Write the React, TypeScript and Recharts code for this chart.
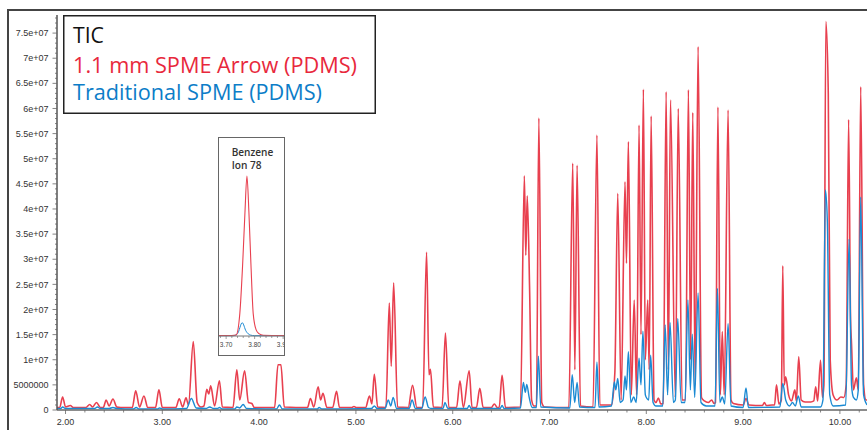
import React from 'react';
import { LineChart, Line, XAxis, YAxis } from 'recharts';

if (typeof document !== 'undefined') {
  document.body.style.margin = '0';
}

// Main chromatogram: [retention time (min), intensity (millions)]
const arrowTrace: [number, number][] = [
  [1.912, 0.5], [1.94, 0.5], [1.97, 2.6], [2.0, 0.6], [2.05, 0.9], [2.08, 0.5],
  [2.21, 0.5], [2.25, 1.1], [2.28, 0.6], [2.32, 1.5], [2.36, 0.5],
  [2.39, 0.5], [2.42, 2.0], [2.45, 0.8], [2.49, 2.2], [2.53, 0.6], [2.57, 0.5],
  [2.69, 0.5], [2.725, 3.8], [2.765, 0.6], [2.81, 2.8], [2.85, 0.5],
  [2.93, 0.5], [2.965, 4.0], [3.0, 0.5],
  [3.14, 0.5], [3.175, 2.25], [3.21, 0.6], [3.245, 2.45], [3.27, 1.0], [3.32, 13.6], [3.36, 1.5], [3.4, 0.6],
  [3.43, 0.8], [3.46, 4.1], [3.48, 3.2], [3.5, 4.8], [3.54, 0.8], [3.59, 5.8], [3.62, 0.6],
  [3.73, 0.5], [3.77, 8.0], [3.8, 2.0], [3.85, 7.8], [3.89, 1.5], [3.925, 1.3], [3.95, 0.5],
  [4.16, 0.5], [4.195, 9.0], [4.225, 9.0], [4.26, 0.6],
  [4.5, 0.5], [4.53, 2.3], [4.565, 0.6], [4.61, 4.6], [4.635, 2.0], [4.66, 3.3], [4.7, 0.5],
  [4.76, 0.5], [4.8, 3.7], [4.83, 0.5],
  [4.96, 0.5], [4.98, 0.7], [5.0, 0.5],
  [5.1, 0.5], [5.14, 2.8], [5.165, 1.2], [5.19, 7.1], [5.225, 0.6],
  [5.31, 0.5], [5.345, 21.3], [5.365, 8.7], [5.39, 25.3], [5.43, 0.6],
  [5.54, 0.5], [5.585, 4.9], [5.63, 0.5],
  [5.69, 0.5], [5.73, 31.4], [5.755, 7.0], [5.77, 8.1], [5.8, 0.6],
  [5.89, 0.5], [5.925, 15.3], [5.96, 0.5],
  [6.04, 0.5], [6.075, 5.8], [6.11, 0.5], [6.17, 7.8], [6.2, 0.5],
  [6.245, 0.5], [6.28, 4.3], [6.315, 0.5],
  [6.4, 0.5], [6.43, 1.2], [6.46, 0.5],
  [6.48, 0.5], [6.51, 6.9], [6.545, 0.5],
  [6.7, 0.6], [6.74, 46.6], [6.755, 30.8], [6.77, 42.6], [6.795, 23.5], [6.815, 2.0], [6.84, 0.8],
  [6.865, 0.8], [6.89, 58.1], [6.92, 1.5], [6.95, 0.6],
  [7.2, 0.5], [7.24, 49.1], [7.262, 8.0], [7.285, 48.7], [7.32, 0.8],
  [7.45, 0.6], [7.49, 54.7], [7.52, 1.0],
  [7.64, 1.0], [7.675, 7.4], [7.705, 43.1], [7.74, 2.0], [7.78, 45.4], [7.795, 29.2], [7.815, 53.4],
  [7.845, 3.0], [7.875, 21.9], [7.9, 3.0], [7.925, 56.7], [7.945, 15.0], [7.97, 63.8], [7.99, 10.0],
  [8.015, 21.9], [8.03, 8.0], [8.05, 58.5], [8.08, 2.0], [8.1, 1.5], [8.125, 2.4], [8.15, 1.2],
  [8.175, 1.3], [8.205, 63.3], [8.228, 8.0], [8.25, 61.7], [8.3, 2.5], [8.33, 60.0], [8.37, 2.0],
  [8.405, 2.0], [8.435, 63.7], [8.458, 10.0], [8.48, 59.2], [8.505, 5.0], [8.535, 72.3], [8.57, 2.5],
  [8.6, 1.8], [8.64, 1.5], [8.675, 2.0], [8.7, 1.3],
  [8.715, 1.5], [8.74, 60.3], [8.765, 3.0], [8.785, 15.6], [8.805, 3.0], [8.845, 59.7], [8.875, 2.0], [8.9, 1.3],
  [9.0, 1.0], [9.03, 2.3], [9.06, 1.0], [9.2, 0.9], [9.22, 1.5], [9.24, 0.9], [9.3, 1.0],
  [9.325, 1.0], [9.345, 5.0], [9.37, 1.2], [9.395, 2.0], [9.41, 28.7], [9.425, 5.0], [9.44, 6.6],
  [9.47, 3.0], [9.5, 1.8], [9.535, 4.0], [9.55, 1.8], [9.575, 10.6], [9.6, 2.0], [9.64, 1.6], [9.7, 1.6],
  [9.73, 1.8], [9.75, 4.6], [9.77, 1.8], [9.8, 9.9], [9.82, 2.5], [9.835, 5.0], [9.855, 77.3], [9.88, 63.0],
  [9.9, 10.0], [9.93, 3.0], [9.97, 2.0], [10.01, 2.6], [10.04, 2.5], [10.065, 5.0], [10.09, 57.8],
  [10.11, 18.0], [10.12, 13.3], [10.14, 4.0], [10.17, 6.4], [10.19, 4.0], [10.215, 64.3], [10.245, 5.0],
  [10.27, 2.0], [10.28, 2.0],
];

const traditionalTrace: [number, number][] = [
  [1.912, 0.3], [1.95, 0.3], [1.97, 0.6], [2.0, 0.3], [2.3, 0.3], [2.33, 0.6], [2.36, 0.3],
  [2.45, 0.3], [2.49, 0.5], [2.53, 0.3], [2.7, 0.2], [2.73, 0.5], [2.76, 0.2], [2.95, 0.2], [2.97, 0.4], [3.0, 0.2],
  [3.25, 0.3], [3.3, 2.3], [3.35, 0.4], [3.45, 0.3], [3.49, 0.6], [3.53, 0.3], [3.57, 0.3], [3.59, 0.5], [3.62, 0.2],
  [3.75, 0.2], [3.77, 0.6], [3.8, 0.4], [3.835, 1.1], [3.87, 0.3],
  [4.18, 0.2], [4.21, 1.0], [4.24, 0.2],
  [4.6, 0.2], [4.62, 0.5], [4.65, 0.2],
  [5.16, 0.3], [5.19, 0.8], [5.22, 0.3],
  [5.3, 0.3], [5.335, 2.0], [5.36, 0.8], [5.385, 2.5], [5.42, 0.3],
  [5.55, 0.3], [5.58, 2.0], [5.615, 0.3],
  [5.68, 0.3], [5.715, 2.6], [5.75, 0.5], [5.78, 0.3],
  [5.9, 0.3], [5.92, 1.5], [5.95, 0.3],
  [6.15, 0.3], [6.17, 0.9], [6.19, 0.3],
  [6.49, 0.3], [6.51, 0.9], [6.53, 0.3],
  [6.7, 0.4], [6.73, 5.5], [6.75, 3.5], [6.765, 5.1], [6.79, 2.5], [6.82, 0.5],
  [6.865, 0.5], [6.885, 10.7], [6.91, 0.6],
  [7.21, 0.4], [7.235, 7.0], [7.26, 1.5], [7.285, 5.5], [7.31, 0.6],
  [7.47, 0.5], [7.49, 9.5], [7.51, 0.6],
  [7.64, 0.8], [7.67, 5.6], [7.685, 4.0], [7.705, 6.3], [7.73, 1.5], [7.76, 2.0], [7.78, 6.8], [7.795, 4.0],
  [7.815, 11.6], [7.84, 1.5], [7.87, 2.6], [7.895, 1.5], [7.925, 10.3], [7.945, 5.0], [7.965, 15.7],
  [7.99, 3.0], [8.01, 2.2], [8.025, 2.0], [8.045, 10.9], [8.07, 1.5], [8.1, 0.8],
  [8.17, 0.8], [8.195, 16.9], [8.22, 3.0], [8.245, 17.4], [8.28, 1.5], [8.3, 2.0], [8.325, 18.2], [8.36, 1.5],
  [8.4, 1.5], [8.43, 21.9], [8.455, 4.0], [8.475, 15.1], [8.5, 2.5], [8.535, 23.3], [8.565, 1.5], [8.62, 0.8],
  [8.71, 0.8], [8.735, 24.2], [8.76, 1.5], [8.785, 2.6], [8.81, 1.2], [8.845, 17.2], [8.875, 0.8],
  [9.0, 0.5], [9.03, 4.4], [9.055, 0.5],
  [9.38, 0.6], [9.41, 5.3], [9.44, 2.0], [9.48, 0.8], [9.51, 1.5], [9.54, 0.8], [9.57, 2.8], [9.6, 0.6],
  [9.8, 0.6], [9.825, 2.0], [9.85, 43.8], [9.87, 37.8], [9.895, 3.0], [9.93, 0.8],
  [10.06, 1.0], [10.095, 34.0], [10.12, 5.0], [10.14, 2.5], [10.17, 2.0], [10.19, 4.0], [10.215, 42.4],
  [10.245, 3.0], [10.28, 1.0],
];

// Benzene ion 78 inset: [retention time (min), relative intensity]
const insetArrow: [number, number][] = [
  [3.675, 0.3], [3.72, 0.3], [3.735, 0.6], [3.748, 14], [3.758, 45], [3.766, 77], [3.773, 100],
  [3.78, 77], [3.787, 45], [3.795, 14], [3.805, 4], [3.815, 1.5], [3.83, 0.5], [3.903, 0.3],
];
const insetTraditional: [number, number][] = [
  [3.675, 0.2], [3.725, 0.2], [3.74, 1.5], [3.7565, 8.3], [3.77, 3], [3.785, 0.6], [3.8, 0.2], [3.903, 0.2],
];

const yMajorTicks = [0, 5, 10, 15, 20, 25, 30, 35, 40, 45, 50, 55, 60, 65, 70, 75];
const yTickLabels = ['0', '5000000', '1e+07', '1.5e+07', '2e+07', '2.5e+07', '3e+07', '3.5e+07', '4e+07',
  '4.5e+07', '5e+07', '5.5e+07', '6e+07', '6.5e+07', '7e+07', '7.5e+07'];
const xMajorTicks = [2, 3, 4, 5, 6, 7, 8, 9, 10];
const xTickLabels = ['2.00', '3.00', '4.00', '5.00', '6.00', '7.00', '8.00', '9.00', '10.00'];
const insetMajorTicks = [3.7, 3.8, 3.9];
const insetTickLabels = ['3.70', '3.80', '3.90'];

const legendTitle = 'TIC';
const arrowName = '1.1 mm SPME Arrow (PDMS)';
const traditionalName = 'Traditional SPME (PDMS)';
const insetTitle = ['Benzene', 'Ion 78'];

const RED = '#e8404f';
const BLUE = '#1b8ad3';

const toRows = (pts: [number, number][]) => pts.map(([t, v]) => ({ t, v }));

const yMinor = Array.from({ length: 79 }, (_, i) => i);
const xMinor = Array.from({ length: 42 }, (_, i) => Math.round((2 + i * 0.2) * 10) / 10);
const insetMinor = Array.from({ length: 12 }, (_, i) => Math.round((3.68 + i * 0.02) * 100) / 100);

const isMajor = (v: number, list: number[]) => list.findIndex((m) => Math.abs(m - v) < 1e-6);

const YTick = (props: any) => {
  const { x, y, payload } = props;
  const idx = isMajor(payload.value, yMajorTicks);
  return (
    <g>
      <line x1={x - (idx >= 0 ? 4.5 : 2)} x2={x} y1={y} y2={y} stroke="#666" strokeWidth={0.8} />
      {idx >= 0 && (
        <text x={x - 8.5} y={y} dy="0.35em" textAnchor="end" fontSize={9} fill="#333"
          fontFamily="Liberation Sans, Arial, sans-serif">{yTickLabels[idx]}</text>
      )}
    </g>
  );
};

const XTick = (props: any) => {
  const { x, y, payload } = props;
  const idx = isMajor(payload.value, xMajorTicks);
  return (
    <g>
      <line x1={x} x2={x} y1={y} y2={y + (idx >= 0 ? 4 : 2.5)} stroke="#666" strokeWidth={0.8} />
      {idx >= 0 && (
        <text x={x} y={y + 14.5} textAnchor="middle" fontSize={9} fill="#333"
          fontFamily="Liberation Sans, Arial, sans-serif">{xTickLabels[idx]}</text>
      )}
    </g>
  );
};

const InsetTick = (props: any) => {
  const { x, y, payload } = props;
  const idx = isMajor(payload.value, insetMajorTicks);
  return (
    <g>
      <line x1={x} x2={x} y1={y} y2={y + (idx >= 0 ? 3 : 2)} stroke="#777" strokeWidth={0.7} />
      {idx >= 0 && (
        <text x={x} y={y + 11} textAnchor="middle" fontSize={6.5} fill="#444"
          fontFamily="Liberation Sans, Arial, sans-serif">{insetTickLabels[idx]}</text>
      )}
    </g>
  );
};

export default function App() {
  return (
    <div style={{ position: 'relative', width: 867, height: 430, overflow: 'hidden', background: '#fff' }}>
      <LineChart width={867} height={430} margin={{ top: 15, right: 0, bottom: 0, left: 8 }}>
        <XAxis type="number" dataKey="t" domain={[1.912, 10.28]} allowDataOverflow ticks={xMinor}
          interval={0} tick={<XTick />} tickLine={false} tickSize={0} tickMargin={0} height={20}
          axisLine={{ stroke: '#666', strokeWidth: 1.5 }} />
        <YAxis type="number" dataKey="v" domain={[0, 78.6]} allowDataOverflow ticks={yMinor}
          interval={0} tick={<YTick />} tickLine={false} tickSize={0} tickMargin={0} width={49}
          axisLine={{ stroke: '#555', strokeWidth: 1.5 }} />
        <Line data={toRows(arrowTrace)} dataKey="v" type="monotone" stroke={RED} strokeWidth={1.6}
          dot={false} isAnimationActive={false} />
        <Line data={toRows(traditionalTrace)} dataKey="v" type="monotone" stroke={BLUE} strokeWidth={1.4}
          dot={false} isAnimationActive={false} />
      </LineChart>

      <div style={{ position: 'absolute', left: 7, top: 9, width: 2, height: 421, background: '#444' }} />
      <div style={{ position: 'absolute', left: 7, top: 9, width: 860, height: 2, background: '#444' }} />

      <svg width={313} height={99} style={{ position: 'absolute', left: 63, top: 15, background: '#fff' }}>
        <rect x={0.75} y={0.75} width={311.5} height={97.5} fill="#fff" stroke="#222" strokeWidth={1.5} />
        <text x={10} y={27.7} fontSize={22} fill="#111" fontFamily="Open Sans, sans-serif"
          textLength={31} lengthAdjust="spacingAndGlyphs">{legendTitle}</text>
        <text x={10} y={57.7} fontSize={22} fill="#e8283c" fontFamily="Open Sans, sans-serif"
          textLength={284} lengthAdjust="spacingAndGlyphs">{arrowName}</text>
        <text x={10} y={85} fontSize={22} fill="#0c7dc8" fontFamily="Open Sans, sans-serif"
          textLength={249} lengthAdjust="spacingAndGlyphs">{traditionalName}</text>
      </svg>

      <div style={{ position: 'absolute', left: 218, top: 137, width: 67, height: 219, boxSizing: 'border-box',
        border: '1px solid #666', background: '#fff', overflow: 'hidden' }}>
        <svg width={65} height={40} style={{ position: 'absolute', left: 0, top: 0 }}>
          <text x={12.7} y={18} fontSize={10.5} fontWeight={600} fill="#333" fontFamily="Open Sans, sans-serif"
            textLength={41.6} lengthAdjust="spacingAndGlyphs">{insetTitle[0]}</text>
          <text x={12.7} y={31.3} fontSize={10.5} fontWeight={600} fill="#333" fontFamily="Open Sans, sans-serif"
            textLength={30} lengthAdjust="spacingAndGlyphs">{insetTitle[1]}</text>
        </svg>
        <div style={{ position: 'absolute', left: 0, top: 0 }}>
          <LineChart width={65} height={217} margin={{ top: 22, right: 0, bottom: 0, left: 0 }}>
            <XAxis type="number" dataKey="t" domain={[3.675, 3.903]} allowDataOverflow ticks={insetMinor}
              interval={0} tick={<InsetTick />} tickLine={false} tickSize={0} tickMargin={0} height={19}
              axisLine={{ stroke: '#777', strokeWidth: 1 }} />
            <YAxis type="number" dataKey="v" domain={[0, 110]} hide />
            <Line data={toRows(insetTraditional)} dataKey="v" type="monotone" stroke={BLUE} strokeWidth={1}
              dot={false} isAnimationActive={false} />
            <Line data={toRows(insetArrow)} dataKey="v" type="monotone" stroke={RED} strokeWidth={1.1}
              dot={false} isAnimationActive={false} />
          </LineChart>
        </div>
      </div>
    </div>
  );
}
